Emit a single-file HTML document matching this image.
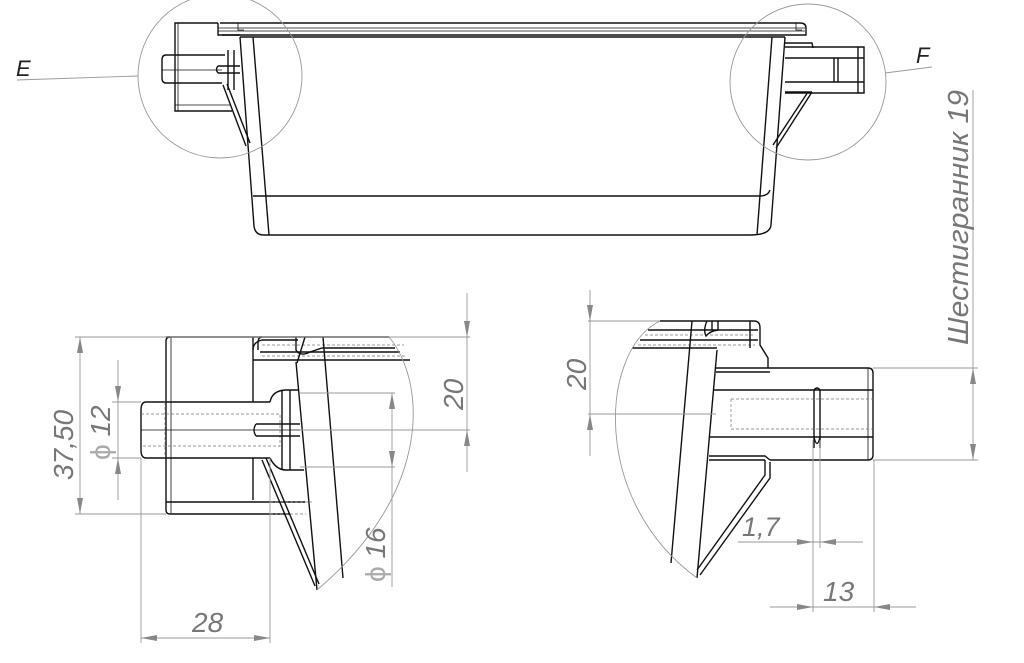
<!DOCTYPE html>
<html><head><meta charset="utf-8"><style>
html,body{margin:0;padding:0;background:#fff;}
svg{display:block}
.k{fill:none;stroke:#111;stroke-width:1.4}
.t{fill:none;stroke:#111;stroke-width:0.8}
.d{fill:none;stroke:#999;stroke-width:0.9}
.h{fill:none;stroke:#777;stroke-width:0.7;stroke-dasharray:3 2}
.a{fill:#888}
text{font-family:"Liberation Sans",sans-serif;font-style:italic;fill:#777}
</style></head><body>
<svg width="1024" height="663" viewBox="0 0 1024 663" xmlns="http://www.w3.org/2000/svg">
<g>
<path class="k" d="M220,23 H800 Q806,23 806,28 V35 H786"/>
<line class="t" x1="218" y1="28" x2="805" y2="28"/>
<line class="t" x1="218" y1="31" x2="805" y2="31"/>
<line class="k" x1="222" y1="35" x2="786" y2="35"/>
<line class="k" x1="240" y1="37" x2="785" y2="37"/>
<path class="k" d="M218,23 V35 H240"/>
<path class="t" d="M238,23 V30 L244,30 M796,23 V30 L802,30"/>
<path class="k" d="M240,37 L254,226 Q255,235 264,235 H750 Q770,235 771,225 L785,37"/>
<line class="k" x1="253" y1="37" x2="269" y2="235"/>
<line class="k" x1="772" y1="37" x2="757" y2="235"/>
<path class="k" d="M253,196 Q256,196 260,196 H760 Q768,196 770,190"/>
<path class="k" d="M218,23 H175 V111 H232"/>
<line class="t" x1="178" y1="23" x2="178" y2="111"/>
<line class="t" x1="175" y1="105" x2="230" y2="105"/>
<path class="k" d="M225,55 H166 Q162,55 162,60 V78 Q162,83 166,83 H222"/>
<line class="t" x1="162" y1="70" x2="222" y2="70"/>
<path class="k" d="M218,66 H240 M218,73 H240 M218,66 Q215,69.5 218,73"/>
<path class="k" d="M228,50 V90 M234,50 V90"/>
<path class="k" d="M223,85 L246,146 M227,84 L250,143"/>
<path class="k" d="M785,47 H864 V93 H785 M785,58 H864 M785,82 H864"/>
<path class="k" d="M834,58 V82 M838,58 V82 M858,47 V93"/>
<path class="k" d="M785,43 H812 L813,48 M785,92 H812"/>
<path class="k" d="M812,92 L776,148 M808,92 L773,145"/>
<circle class="d" cx="220" cy="76" r="82" stroke="#888"/>
<circle class="d" cx="808" cy="82" r="78" stroke="#888"/>
<line class="d" x1="138" y1="76" x2="17" y2="80"/>
<line class="d" x1="885" y1="73" x2="932" y2="67"/>
<text x="16" y="76" font-size="22" style="fill:#222">E</text>
<text x="916" y="63" font-size="22" style="fill:#222">F</text>
</g>

<line class="d" x1="973" y1="90" x2="973" y2="460"/>
<text transform="translate(968,345) rotate(-90)" font-size="29" textLength="255" lengthAdjust="spacingAndGlyphs">Шестигранник 19</text>

<g>
<path class="k" d="M166,337 H389"/>
<path class="k" d="M253,350 Q253,342 262,340 H298"/>
<path class="k" d="M253,360 H410 M260,352 H400"/>
<path class="h" d="M262,345 H404 M262,356 H406"/>
<path class="k" d="M296,337 V350 Q300,357 310,352 L322,348 H395"/>
<path class="k" d="M262,337 Q258,337 258,343 V350"/>
<path class="k" d="M170,337 Q166,337 166,341 V510 Q166,514 170,514 H290"/>
<line class="t" x1="171" y1="337" x2="171" y2="514"/>
<line class="k" x1="166" y1="502" x2="305" y2="502"/>
<path class="h" d="M270,502 H312 M270,514 H306"/>
<path class="k" d="M253,337 V402 M253,458 V500"/>
<path class="k" d="M270,402 H146 Q141,402 141,410 V450 Q141,458 146,458 H270"/>
<line class="t" x1="141" y1="430" x2="300" y2="430"/>
<path class="h" d="M141,414 H280 V446 H141 M165,402 V458"/>
<path class="k" d="M270,402 Q272,391 285,390 H298 M270,458 Q276,470 286,470 H304"/>
<path class="k" d="M282,390 V470 M290,390 V470"/>
<path class="k" d="M256,424 H300 M256,436 H300 M256,424 Q252,430 256,436"/>
<path class="k" d="M297,363 L305,337"/>
<path class="k" d="M296,362 L317,590"/>
<path class="k" d="M323,337 L343,578"/>
<path class="k" d="M262,460 L315,586 M266,458 L319,584"/>
<path class="d" stroke="#666" d="M389,337 C425,380 435,490 317,590"/>
<line class="d" x1="75" y1="337" x2="470" y2="337"/>
<line class="d" x1="75" y1="514" x2="166" y2="514"/>
<line class="d" x1="80" y1="337" x2="80" y2="514"/>
<path class="a" d="M80,337 l-3,16 h6z M80,514 l-3,-16 h6z"/>
<line class="d" x1="112" y1="402" x2="141" y2="402"/>
<line class="d" x1="112" y1="458" x2="141" y2="458"/>
<line class="d" x1="118" y1="360" x2="118" y2="500"/>
<path class="a" d="M118,402 l-3,-16 h6z M118,458 l-3,16 h6z"/>
<line class="d" x1="300" y1="393" x2="395" y2="393"/>
<line class="d" x1="300" y1="467" x2="395" y2="467"/>
<line class="d" x1="392" y1="393" x2="392" y2="587"/>
<path class="a" d="M392,393 l-3,16 h6z M392,467 l-3,-16 h6z"/>
<line class="d" x1="300" y1="430" x2="470" y2="430"/>
<line class="d" x1="467" y1="293" x2="467" y2="472"/>
<path class="a" d="M467,337 l-3,-16 h6z M467,430 l-3,16 h6z"/>
<line class="d" x1="141" y1="458" x2="141" y2="643"/>
<line class="d" x1="270" y1="458" x2="270" y2="643"/>
<line class="d" x1="141" y1="638" x2="270" y2="638"/>
<path class="a" d="M141,638 l16,-3 v6z M270,638 l-16,-3 v6z"/>
<text transform="translate(73,480) rotate(-90)" font-size="28">37,50</text>
<text transform="translate(110,460) rotate(-90)" font-size="28"><tspan style="fill:#aaa;font-style:normal">ϕ</tspan> 12</text>
<text transform="translate(463,410) rotate(-90)" font-size="28">20</text>
<text transform="translate(385,582) rotate(-90)" font-size="28"><tspan style="fill:#aaa;font-style:normal">ϕ</tspan> 16</text>
<text x="192" y="632" font-size="28">28</text>
</g>

<g>
<path class="k" d="M660,321 H754 Q760,321 760,328 V345 L768,358 V368"/>
<path class="k" d="M648,330 H758 M640,340 H758 M632,348 H717"/>
<path class="h" d="M645,335 H755 M638,345 H755"/>
<path class="k" d="M707,321 Q703,330 706,336 Q710,331 718,330 V321 M712,321 V330 M750,321 V348"/>
<path class="k" d="M716,368 H868 Q873,368 873,373 V455 Q873,460 868,460 H770"/>
<line class="t" x1="868" y1="368" x2="868" y2="460"/>
<path class="k" d="M716,372 H770 M713,390 H873 M710,437 H873"/>
<path class="k" d="M814,390 V448 M820,390 V448 M814,390 Q817,386 820,390 M814,437 Q817,450 820,437"/>
<path class="h" d="M731,399 H873 M731,429 H873 M731,399 V429"/>
<path class="k" d="M709,456 H765 L770,460 M709,460 H765"/>
<path class="k" d="M692,321 L671,563"/>
<path class="k" d="M717,350 L697,578"/>
<path class="k" d="M765,460 V475 L697,570 M770,462 V478 L700,575"/>
<path class="d" stroke="#666" d="M660,321 C600,350 590,500 697,578"/>
<line class="d" x1="588" y1="321" x2="660" y2="321"/>
<line class="d" x1="588" y1="414" x2="716" y2="414"/>
<line class="d" x1="590" y1="290" x2="590" y2="456"/>
<path class="a" d="M590,321 l-3,-16 h6z M590,414 l-3,16 h6z"/>
<line class="d" x1="873" y1="368" x2="978" y2="368"/>
<line class="d" x1="873" y1="460" x2="978" y2="460"/>
<path class="a" d="M973,368 l-3,16 h6z M973,460 l-3,-16 h6z"/>
<line class="d" x1="813" y1="440" x2="813" y2="612"/>
<line class="d" x1="820" y1="440" x2="820" y2="548"/>
<line class="d" x1="874" y1="460" x2="874" y2="612"/>
<line class="d" x1="738" y1="542" x2="863" y2="542"/>
<path class="a" d="M813,542 l-16,-3 v6z M820,542 l16,-3 v6z"/>
<line class="d" x1="770" y1="607" x2="916" y2="607"/>
<path class="a" d="M813,607 l-16,-3 v6z M874,607 l16,-3 v6z"/>
<text transform="translate(586,390) rotate(-90)" font-size="28">20</text>
<text x="742" y="536" font-size="27">1,7</text>
<text x="823" y="601" font-size="28">13</text>
</g>
</svg>
</body></html>
